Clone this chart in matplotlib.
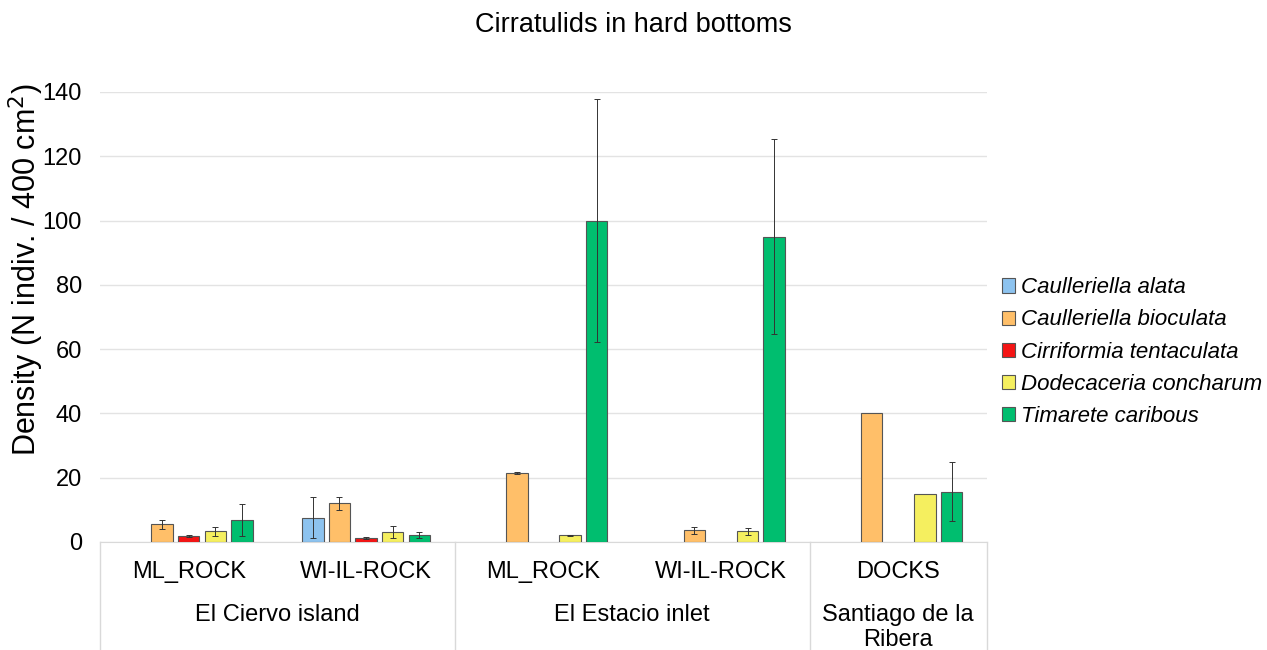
import numpy as np
import matplotlib
matplotlib.use("Agg")
import matplotlib.pyplot as plt
from matplotlib.patches import Patch

plt.rcParams['font.family'] = ['Liberation Sans', 'DejaVu Sans']

# sampling sites (sub-category) and localities (top category)
sites = ['ML_ROCK', 'WI-IL-ROCK', 'ML_ROCK', 'WI-IL-ROCK', 'DOCKS']
localities = ['El Ciervo island', 'El Estacio inlet', 'Santiago de la\nRibera']
locality_span = [(0, 1), (2, 3), (4, 4)]

species = ['Caulleriella alata', 'Caulleriella bioculata', 'Cirriformia tentaculata',
           'Dodecaceria concharum', 'Timarete caribous']
colors = ['#8DC3EF', '#FFBF69', '#F41414', '#F5EF5F', '#00BE6F']

nan = np.nan
# mean density per site, one list per species
alata = [nan, 7.5, nan, nan, nan]
bioculata = [5.6, 12.0, 21.5, 3.6, 40.0]
tentaculata = [1.8, 1.3, nan, nan, nan]
concharum = [3.4, 3.1, 2.1, 3.3, 15.0]
caribous = [6.8, 2.3, 100.0, 95.0, 15.6]

# standard errors
alata_err = [nan, 6.4, nan, nan, nan]
bioculata_err = [1.4, 2.0, 0.3, 1.1, nan]
tentaculata_err = [0.3, 0.3, nan, nan, nan]
concharum_err = [1.4, 2.0, 0.2, 1.2, nan]
caribous_err = [5.0, 0.9, 37.8, 30.3, 9.2]

means = [alata, bioculata, tentaculata, concharum, caribous]
errs = [alata_err, bioculata_err, tentaculata_err, concharum_err, caribous_err]

fig = plt.figure(figsize=(12.67, 6.5), dpi=100)
ax = fig.add_axes([100 / 1267, 108 / 650, 887 / 1267, 450 / 650])

x = np.arange(len(sites))
step, width = 0.15, 0.12
for k, (m, e) in enumerate(zip(means, errs)):
    pos = x + (k - 2) * step
    ax.bar(pos, m, width, color=colors[k], edgecolor='#555555', linewidth=0.8, zorder=3)
    ax.errorbar(pos, m, yerr=e, fmt='none', ecolor='#333333', elinewidth=0.7,
                capsize=2.2, capthick=0.7, zorder=4)

ax.set_xlim(-0.5, len(sites) - 0.5)
ax.set_ylim(0, 140)
ax.set_yticks(np.arange(0, 141, 20))
ax.tick_params(axis='y', length=0, labelsize=17, pad=13)
ax.set_xticks([])
ax.grid(axis='y', color='#E3E3E3', linewidth=1, zorder=0)
for s in ['top', 'right', 'left']:
    ax.spines[s].set_visible(False)
ax.spines['bottom'].set_color('#D9D9D9')

ax.set_ylabel('Density (N indiv. / 400 cm$^2$)', fontsize=22)
ax.yaxis.set_label_coords(-0.061, 0.604)
fig.text(0.5, 0.9615, 'Cirratulids in hard bottoms', ha='center', va='center', fontsize=19.5)

# two-level category axis below the plot
trans = ax.get_xaxis_transform()
for i, s in enumerate(sites):
    ax.text(i, -0.066, s, transform=trans, ha='center', va='center', fontsize=17)
for name, (a, b) in zip(localities, locality_span):
    yy = -0.19 if '\n' in name else -0.163
    ax.text((a + b) / 2, yy, name, transform=trans, ha='center', va='center',
            fontsize=17, linespacing=1.2)
for xb in [-0.5, 1.5, 3.5, 4.5]:
    ax.plot([xb, xb], [0, -0.24], transform=trans, color='#D9D9D9', linewidth=1, clip_on=False)

handles = [Patch(facecolor=c, edgecolor='#555555', linewidth=0.8) for c in colors]
leg = fig.legend(handles, species, loc='center left', bbox_to_anchor=(991 / 1267, 1 - 352 / 650),
                 frameon=False, fontsize=16, handlelength=0.6, handleheight=0.6,
                 handletextpad=0.25, labelspacing=0.5, borderpad=0)
for t in leg.get_texts():
    t.set_fontstyle('italic')

fig.savefig('out.png', dpi=100)
